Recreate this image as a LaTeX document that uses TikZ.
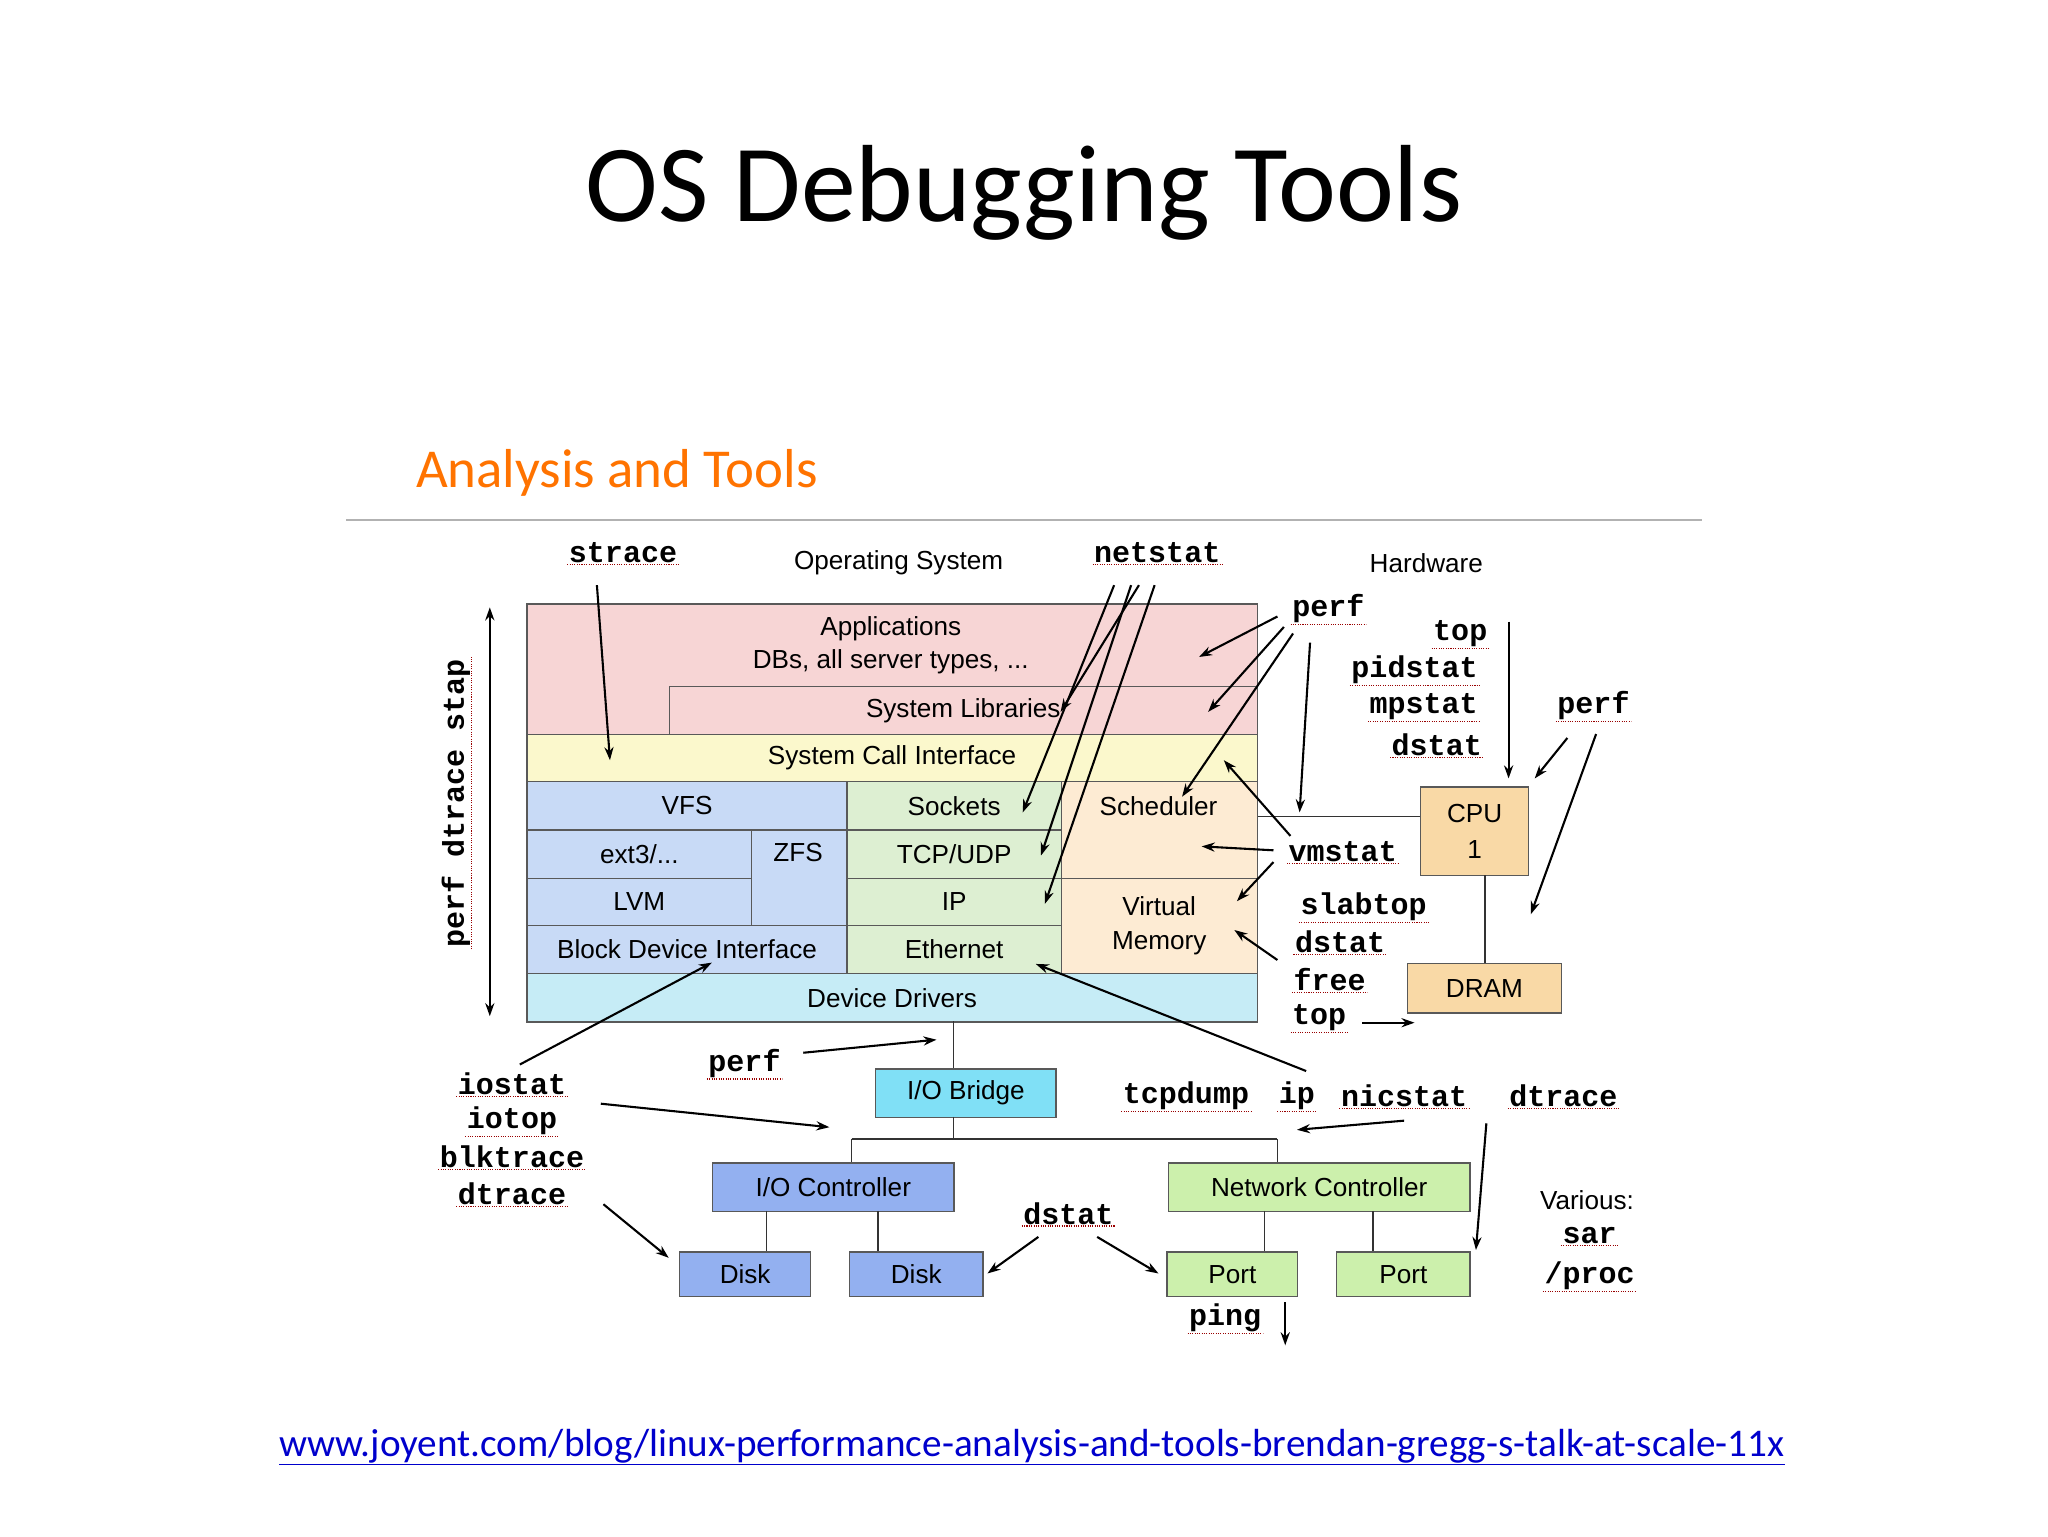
\documentclass[tikz,border=0pt]{standalone}
\usepackage{fontspec}
\setmainfont{Liberation Sans}
\setmonofont{Liberation Mono}
\newfontfamily\calib{Carlito}
\usetikzlibrary{arrows.meta}
\definecolor{cpink}{HTML}{F7D5D5}
\definecolor{cyel}{HTML}{FBF8CC}
\definecolor{cblue}{HTML}{C8DAF6}
\definecolor{cgreen}{HTML}{DDEFD2}
\definecolor{corg}{HTML}{FDEBD3}
\definecolor{ccyan}{HTML}{C6ECF6}
\definecolor{chw}{HTML}{F9D9A6}
\definecolor{cbridge}{HTML}{80E0F6}
\definecolor{cioc}{HTML}{93B0F0}
\definecolor{cnet}{HTML}{CCF0AC}
\newcommand{\bx}[7]{%
  \pgfmathsetmacro\bw{#4-#2}\pgfmathsetmacro\bh{#5-#3}%
  \node[bx,fill=#6,minimum width=\bw pt,minimum height=\bh pt,anchor=north west,align=center] (#1) at (#2,#3) {#7};}
\begin{document}
\begin{tikzpicture}[x=1pt,y=-1pt,
  bx/.style={draw=black!65,line width=1pt,inner sep=0pt,font=\fontsize{20}{24}\selectfont},
  lbl/.style={font=\fontsize{20}{24}\selectfont,inner sep=1pt},
  tool/.style={font=\fontsize{23}{26}\selectfont\ttfamily\bfseries,inner sep=1pt,
    append after command={(\tikzlastnode.south west) edge[draw=red!60!black,densely dotted,line width=0.8pt] (\tikzlastnode.south east)}},
  ar/.style={-{Stealth[length=10pt,width=7pt]},line width=1.6pt},
  ln/.style={line width=1.2pt,draw=black!80}]
\useasboundingbox (0,0) rectangle (1568,1176);
\fill[white] (0,0) rectangle (1568,1176);
\node[font=\fontsize{84}{90}\selectfont\calib] (title) at (784,148) {OS Debugging Tools};
\node[font=\fontsize{42}{46}\selectfont\calib,text=orange!90!red,anchor=west] (sub) at (315,362) {Analysis and Tools};
\draw[black!30,line width=1.5pt] (265,398) -- (1303,398);
% OS boxes
\bx{app}{403}{462}{962}{562}{cpink}{}
\node[lbl,align=center] (apptxt) at (682,494) {Applications\\[2pt]DBs, all server types, ...};
\bx{slib}{512}{525}{962}{562}{cpink}{System Libraries}
\bx{sci}{403}{562}{962}{598}{cyel}{System Call Interface}
\bx{vfs}{403}{598}{648}{635}{cblue}{VFS}
\bx{ext}{403}{635}{575}{672}{cblue}{ext3/...}
\bx{zfs}{575}{635}{648}{708}{cblue}{}
\node[lbl] (zfst) at (611,653) {ZFS};
\bx{lvm}{403}{672}{575}{708}{cblue}{LVM}
\bx{bdi}{403}{708}{648}{745}{cblue}{Block Device Interface}
\bx{sock}{648}{598}{812}{635}{cgreen}{Sockets}
\bx{tcp}{648}{635}{812}{672}{cgreen}{TCP/UDP}
\bx{ip}{648}{672}{812}{708}{cgreen}{IP}
\bx{eth}{648}{708}{812}{745}{cgreen}{Ethernet}
\bx{sch}{812}{598}{962}{672}{corg}{}
\node[lbl] (scht) at (887,617) {Scheduler};
\bx{vm}{812}{672}{962}{745}{corg}{Virtual\\[2pt]Memory}
\bx{dd}{403}{745}{962}{782}{ccyan}{Device Drivers}
% hardware
\bx{cpu}{1087}{602}{1170}{670}{chw}{CPU\\[4pt]1}
\bx{dram}{1077}{737}{1195}{775}{chw}{DRAM}
\draw[ln] (sch.east |- 0,625) -- (cpu.west |- 0,625);
\draw[ln] (1137,670) -- (1137,737);
\bx{iob}{670}{818}{808}{855}{cbridge}{I/O Bridge}
\bx{ioc}{545}{890}{730}{927}{cioc}{I/O Controller}
\bx{d1}{520}{958}{620}{992}{cioc}{Disk}
\bx{d2}{650}{958}{752}{992}{cioc}{Disk}
\bx{nc}{894}{890}{1125}{927}{cnet}{Network Controller}
\bx{p1}{893}{958}{993}{992}{cnet}{Port}
\bx{p2}{1023}{958}{1125}{992}{cnet}{Port}
\draw[ln] (730,782) -- (730,818);
\draw[ln] (730,855) -- (730,872);
\draw[ln] (652,872) -- (978,872);
\draw[ln] (652,872) -- (652,890);
\draw[ln] (978,872) -- (978,890);
\draw[ln] (587,927) -- (587,958);
\draw[ln] (672,927) -- (672,958);
\draw[ln] (968,927) -- (968,958);
\draw[ln] (1051,927) -- (1051,958);
% labels
\node[lbl] (os) at (688,431) {Operating System};
\node[lbl] (hw) at (1092,431) {Hardware};
\node[tool] (strace) at (477,423) {strace};
\node[tool] (netstat) at (886,423) {netstat};
\node[tool] (perf1) at (1017,466) {perf};
\node[tool] (top1) at (1118,485) {top};
\node[tool] (pidstat) at (1083,513) {pidstat};
\node[tool] (mpstat) at (1090,541) {mpstat};
\node[tool] (dstat1) at (1100,570) {dstat};
\node[tool] (perf2) at (1220,540) {perf};
\node[tool] (vmstat) at (1028,652) {vmstat};
\node[tool] (slabtop) at (1044,694) {slabtop};
\node[tool] (dstat2) at (1026,721) {dstat};
\node[tool] (free) at (1018,750) {free};
\node[tool] (top2) at (1010,779) {top};
\node[tool] (perf3) at (570,814) {perf};
\node[tool] (iostat) at (392,830) {iostat};
\node[tool] (iotop) at (392,858) {iotop};
\node[tool] (blk) at (392,886) {blktrace};
\node[tool] (dtr1) at (392,914) {dtrace};
\node[tool] (tcpd) at (908,839) {tcpdump};
\node[tool] (ipt) at (993,839) {ip};
\node[tool] (nic) at (1075,839) {nicstat};
\node[tool] (dtr2) at (1197,839) {dtrace};
\node[tool] (dstat3) at (818,929) {dstat};
\node[tool] (ping) at (938,1009) {ping};
\node[lbl] (var) at (1215,919) {Various:};
\node[tool] (sar) at (1217,946) {sar};
\node[tool] (proc) at (1217,977) {/proc};
\node[tool,rotate=90] (pds) at (349,615) {perf dtrace stap};
\coordinate (va) at (375,465); \coordinate (vb) at (375,778);
\draw[{Stealth[length=10pt,width=7pt]}-{Stealth[length=10pt,width=7pt]},line width=1.6pt] (va) -- (vb);
% arrows
\draw[ar] (457,448) -- (467,582);
\draw[ar] (853,448) -- (783,622);
\draw[ar] (866,448) -- (797,655);
\draw[ar] (872,448) -- (812,545);
\draw[ar] (884,448) -- (800,692);
\draw[ar] (978,472) -- (918,503);
\draw[ar] (983,480) -- (925,545);
\draw[ar] (990,485) -- (905,610);
\draw[ar] (1003,492) -- (995,622);
\draw[ar] (1155,476) -- (1155,596);
\draw[ar] (1200,565) -- (1175,596);
\draw[ar] (1222,562) -- (1172,700);
\draw[ar] (988,640) -- (937,582);
\draw[ar] (975,651) -- (920,648);
\draw[ar] (975,660) -- (947,690);
\draw[ar] (978,735) -- (945,712);
\draw[ar] (1043,783) -- (1083,783);
\draw[ar] (1000,820) -- (793,738);
\draw[ar] (1075,858) -- (993,865);
\draw[ar] (1138,860) -- (1130,957);
\draw[ar] (615,806) -- (717,796);
\draw[ar] (398,815) -- (545,737);
\draw[ar] (460,845) -- (635,863);
\draw[ar] (462,922) -- (512,963);
\draw[ar] (795,947) -- (756,975);
\draw[ar] (840,947) -- (887,975);
\draw[ar] (984,997) -- (984,1030);
\node[font=\fontsize{30}{34}\selectfont\calib,text=blue!80!black] (url) at (790,1108) {\underline{www.joyent.com/blog/linux-performance-analysis-and-tools-brendan-gregg-s-talk-at-scale-11x}};
\end{tikzpicture}
\end{document}
